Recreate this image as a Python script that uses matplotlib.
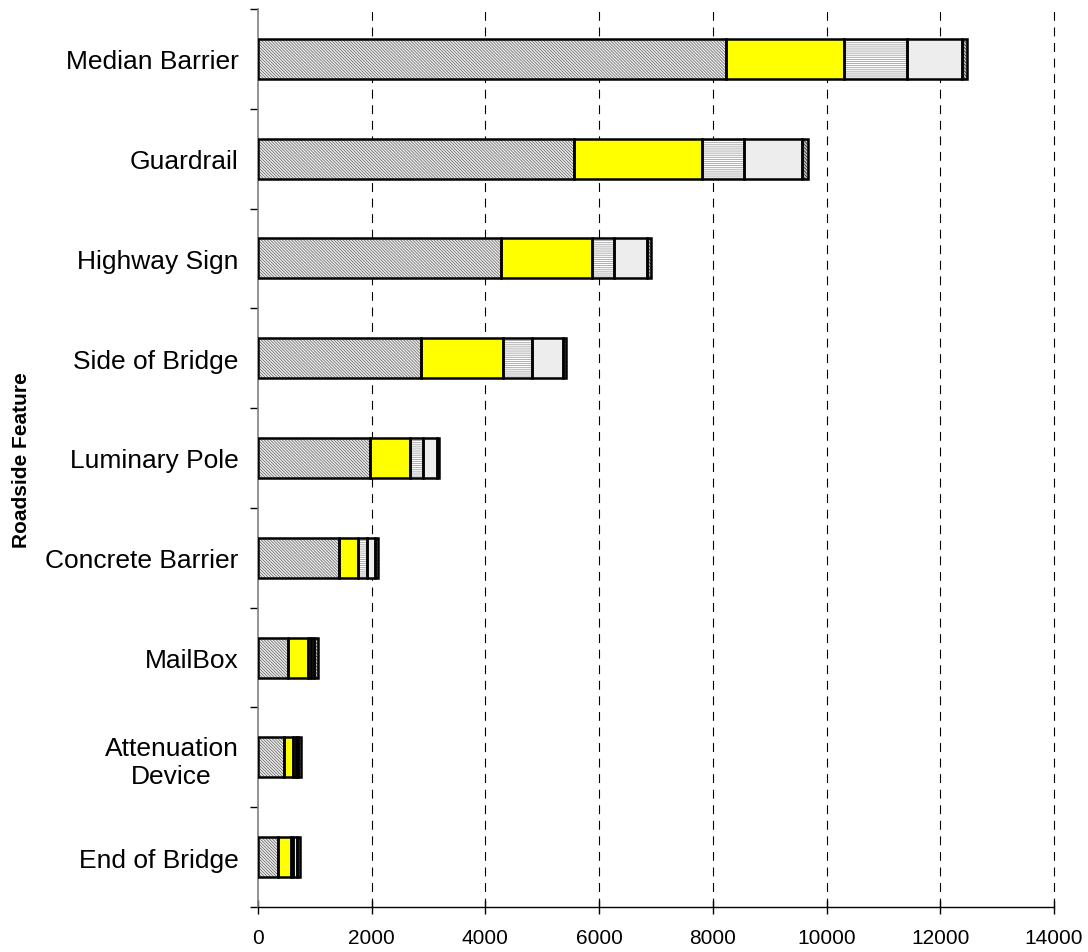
import matplotlib
matplotlib.use("Agg")
import matplotlib.pyplot as plt
import numpy as np

plt.rcParams['font.family'] = ['Liberation Sans', 'DejaVu Sans']
plt.rcParams['hatch.linewidth'] = 0.55

categories = ["Median Barrier", "Guardrail", "Highway Sign", "Side of Bridge",
              "Luminary Pole", "Concrete Barrier", "MailBox",
              "Attenuation\nDevice", "End of Bridge"]

seg1 = [8225, 5552, 4274, 2867, 1970, 1430, 534, 463, 358]
seg2 = [2081, 2262, 1606, 1436, 703, 323, 352, 158, 222]
seg3 = [1114, 733, 387, 521, 223, 158, 41, 47, 41]
seg4 = [967, 1026, 569, 545, 247, 147, 64, 41, 59]
seg5 = [77, 94, 70, 42, 40, 47, 59, 41, 59]

xticks = [0, 2000, 4000, 6000, 8000, 10000, 12000, 14000]

series = [seg1, seg2, seg3, seg4, seg5]
styles = [
    dict(facecolor='#eeeeee', hatch='\\' * 11, edgecolor='#6a6a6a'),
    dict(facecolor='#ffff00', hatch=None, edgecolor='#ffff00'),
    dict(facecolor='white', hatch='-' * 8, edgecolor='#999999'),
    dict(facecolor='#ededed', hatch=None, edgecolor='#ededed'),
    dict(facecolor='#c0c0c0', hatch='\\' * 10, edgecolor='#303030'),
]

fig = plt.figure(figsize=(10.88, 9.53), dpi=100)
ax = fig.add_axes([258/1088, 45/953, (1054-258)/1088, (908-10)/953])

y = np.arange(len(categories))
left = np.zeros(len(categories))
h = 0.4
for vals, st in zip(series, styles):
    vals = np.array(vals, dtype=float)
    ax.barh(y, vals, left=left, height=h, facecolor=st['facecolor'],
            hatch=st['hatch'], edgecolor=st['edgecolor'], linewidth=0, zorder=3)
    ax.barh(y, vals, left=left, height=h, fill=False, edgecolor='black',
            linewidth=1.8, zorder=4)
    left += vals

ax.set_xlim(0, 14000)
ax.set_ylim(len(categories) - 0.5, -0.5)
ax.set_xticks(xticks)
ax.set_xticklabels([str(t) for t in xticks], fontsize=15)
ax.tick_params(axis='x', direction='inout', length=10, width=1, pad=10)

ax.set_yticks(y)
ax.set_yticklabels(categories, fontsize=19, multialignment='center')
ax.tick_params(axis='y', which='major', length=0, pad=14)
ax.set_yticks(np.arange(-0.5, len(categories) + 0.5, 1), minor=True)
ax.tick_params(axis='y', which='minor', length=6, width=1, direction='out', color='black')

for xt in xticks[1:]:
    ax.axvline(xt, color='black', linestyle=(0, (8, 6)), linewidth=0.8, zorder=1,
               clip_on=False)

ax.spines['top'].set_visible(False)
ax.spines['right'].set_visible(False)
ax.spines['left'].set_color('#808080')
ax.spines['left'].set_linewidth(1.2)
ax.spines['bottom'].set_color('black')
ax.spines['bottom'].set_linewidth(1.0)

fig.text(22/1088, 1 - 460/953, "Roadside Feature", rotation=90, fontsize=15,
         fontweight='bold', ha='center', va='center')

fig.savefig("out.png", dpi=100)
